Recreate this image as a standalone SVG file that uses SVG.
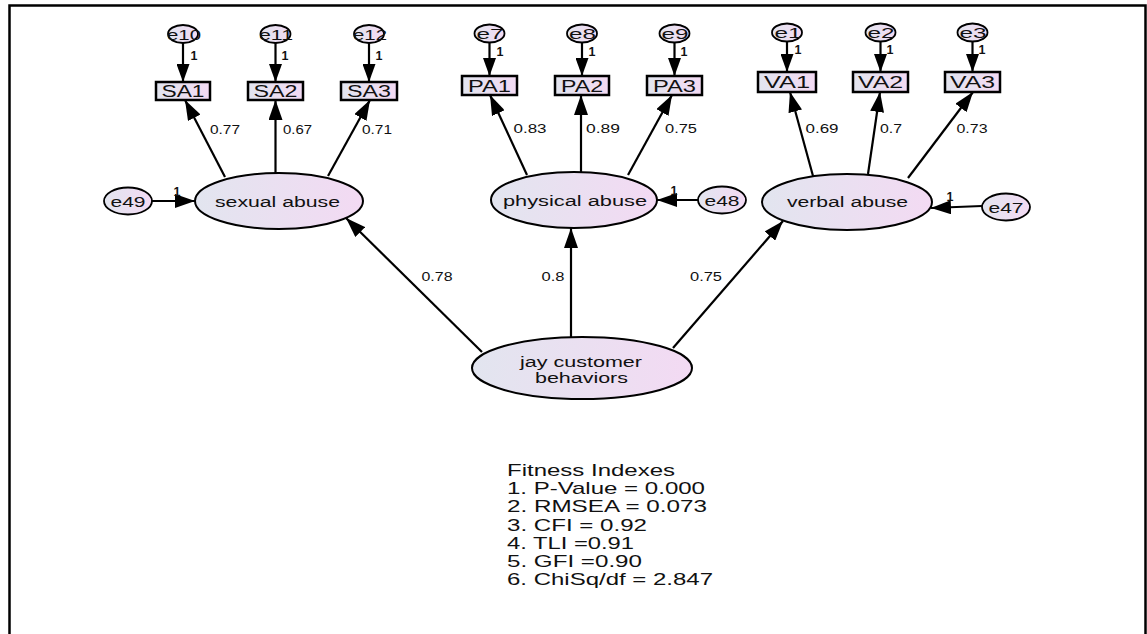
<svg xmlns="http://www.w3.org/2000/svg" width="1147" height="634" viewBox="0 0 1147 634">
  <defs>
    <linearGradient id="fillGrad" x1="0" y1="0" x2="1" y2="0">
      <stop offset="0" stop-color="#e2e5ef"/>
      <stop offset="1" stop-color="#f3daf3"/>
    </linearGradient>
    <marker id="arrow" viewBox="0 0 20 14" refX="20" refY="7" markerWidth="20" markerHeight="14" markerUnits="userSpaceOnUse" orient="auto">
      <path d="M0,0 L20,7 L0,14 z" fill="#000"/>
    </marker>
    <marker id="arrowSmall" viewBox="0 0 18 13" refX="18" refY="6.5" markerWidth="18" markerHeight="13" markerUnits="userSpaceOnUse" orient="auto">
      <path d="M0,0 L18,6.5 L0,13 z" fill="#000"/>
    </marker>
  </defs>
  <style>
    text { font-family: "Liberation Sans", Arial, sans-serif; fill: #111; }
    .latent { fill: url(#fillGrad); stroke: #000; stroke-width: 2; }
    .err { fill: url(#fillGrad); stroke: #000; stroke-width: 1.8; }
    .obs { fill: url(#fillGrad); stroke: #000; stroke-width: 2.5; }
    .lbl { font-size: 15.5px; text-anchor: middle; }
    .box { font-size: 16px; text-anchor: middle; }
    .elbl { font-size: 15px; text-anchor: middle; }
    .coef { font-size: 12.5px; text-anchor: middle; }
    .one { font-size: 12.5px; font-weight: bold; text-anchor: middle; }
    .fit { font-size: 17px; }
    .edge { stroke: #000; stroke-width: 2.2; fill: none; marker-end: url(#arrow); }
    .edge2 { stroke: #000; stroke-width: 2.2; fill: none; marker-end: url(#arrowSmall); }
  </style>

  <!-- frame -->
  <rect x="9.5" y="5.5" width="1136" height="640" fill="#fff" stroke="#000" stroke-width="2.5"/>

  <!-- connectors -->
  <g id="connectors">
    <!-- error terms to indicators -->
    <line class="edge2" x1="183" y1="42" x2="183" y2="82"/>
    <line class="edge2" x1="275.5" y1="42" x2="275.5" y2="82"/>
    <line class="edge2" x1="369" y1="42" x2="369" y2="82"/>
    <line class="edge2" x1="489.5" y1="42" x2="489.5" y2="76"/>
    <line class="edge2" x1="582" y1="42" x2="582" y2="76"/>
    <line class="edge2" x1="674.5" y1="42" x2="674.5" y2="76"/>
    <line class="edge2" x1="787" y1="41" x2="787" y2="72"/>
    <line class="edge2" x1="880.5" y1="41" x2="880.5" y2="72"/>
    <line class="edge2" x1="972.5" y1="41" x2="972.5" y2="72"/>
    <!-- loadings -->
    <line class="edge" x1="225" y1="177" x2="185" y2="100"/>
    <line class="edge" x1="275.5" y1="173" x2="275.5" y2="100"/>
    <line class="edge" x1="328" y1="176" x2="370" y2="100"/>
    <line class="edge" x1="527" y1="175" x2="490" y2="95"/>
    <line class="edge" x1="581" y1="172" x2="581" y2="95"/>
    <line class="edge" x1="628" y1="175" x2="672" y2="95"/>
    <line class="edge" x1="813" y1="176" x2="790" y2="92"/>
    <line class="edge" x1="868" y1="174" x2="880" y2="92"/>
    <line class="edge" x1="908" y1="178" x2="973" y2="92"/>
    <!-- disturbances -->
    <line class="edge" x1="152" y1="201" x2="195" y2="201"/>
    <line class="edge" x1="698" y1="200" x2="657" y2="200"/>
    <line class="edge" x1="982" y1="206" x2="931" y2="208"/>
    <!-- second-order paths -->
    <line class="edge" x1="482" y1="352" x2="346" y2="218"/>
    <line class="edge" x1="571" y1="337" x2="571" y2="228"/>
    <line class="edge" x1="673" y1="348" x2="783" y2="221"/>

    <!-- path coefficients -->
    <text class="coef" x="225" y="134" textLength="30" lengthAdjust="spacingAndGlyphs">0.77</text>
    <text class="coef" x="297.5" y="134" textLength="29" lengthAdjust="spacingAndGlyphs">0.67</text>
    <text class="coef" x="377" y="134" textLength="30" lengthAdjust="spacingAndGlyphs">0.71</text>
    <text class="coef" x="530" y="133" textLength="33" lengthAdjust="spacingAndGlyphs">0.83</text>
    <text class="coef" x="603" y="133" textLength="34" lengthAdjust="spacingAndGlyphs">0.89</text>
    <text class="coef" x="681" y="133" textLength="32" lengthAdjust="spacingAndGlyphs">0.75</text>
    <text class="coef" x="822" y="133" textLength="33" lengthAdjust="spacingAndGlyphs">0.69</text>
    <text class="coef" x="891" y="133" textLength="22" lengthAdjust="spacingAndGlyphs">0.7</text>
    <text class="coef" x="972" y="133" textLength="31" lengthAdjust="spacingAndGlyphs">0.73</text>
    <text class="coef" x="437" y="281" textLength="31" lengthAdjust="spacingAndGlyphs">0.78</text>
    <text class="coef" x="553" y="281" textLength="23" lengthAdjust="spacingAndGlyphs">0.8</text>
    <text class="coef" x="706" y="281" textLength="32" lengthAdjust="spacingAndGlyphs">0.75</text>

    <!-- fixed weights -->
    <text class="one" x="194" y="60">1</text>
    <text class="one" x="285" y="60">1</text>
    <text class="one" x="379" y="60">1</text>
    <text class="one" x="500" y="56">1</text>
    <text class="one" x="592" y="56">1</text>
    <text class="one" x="684" y="56">1</text>
    <text class="one" x="798" y="54">1</text>
    <text class="one" x="890" y="54">1</text>
    <text class="one" x="982" y="54">1</text>
    <text class="one" x="177" y="196">1</text>
    <text class="one" x="674" y="195">1</text>
    <text class="one" x="950" y="201">1</text>
  </g>

  <!-- sexual abuse block -->
  <g id="e10"><ellipse class="err" cx="183" cy="34" rx="15" ry="9"/><text class="elbl" x="184" y="39.5" textLength="34" lengthAdjust="spacingAndGlyphs">e10</text></g>
  <g id="e11"><ellipse class="err" cx="275.5" cy="34" rx="15" ry="9"/><text class="elbl" x="276" y="39.5" textLength="34" lengthAdjust="spacingAndGlyphs">e11</text></g>
  <g id="e12"><ellipse class="err" cx="369" cy="34" rx="15" ry="9"/><text class="elbl" x="370" y="39.5" textLength="34" lengthAdjust="spacingAndGlyphs">e12</text></g>
  <g id="SA1"><rect class="obs" x="156" y="82" width="54" height="18"/><text class="box" x="183" y="97" textLength="43" lengthAdjust="spacingAndGlyphs">SA1</text></g>
  <g id="SA2"><rect class="obs" x="248" y="82" width="55" height="18"/><text class="box" x="275.5" y="97" textLength="44" lengthAdjust="spacingAndGlyphs">SA2</text></g>
  <g id="SA3"><rect class="obs" x="341" y="82" width="56" height="18"/><text class="box" x="369" y="97" textLength="44" lengthAdjust="spacingAndGlyphs">SA3</text></g>
  <g id="sexual-abuse"><ellipse class="latent" cx="279" cy="201" rx="84" ry="28"/><text class="lbl" x="277.5" y="207" textLength="125" lengthAdjust="spacingAndGlyphs">sexual abuse</text></g>
  <g id="e49"><ellipse class="err" cx="128" cy="201" rx="24" ry="13.5"/><text class="elbl" x="128" y="207" textLength="35" lengthAdjust="spacingAndGlyphs">e49</text></g>

  <!-- physical abuse block -->
  <g id="e7"><ellipse class="err" cx="489.5" cy="33.5" rx="15" ry="9"/><text class="elbl" x="490" y="39" textLength="27" lengthAdjust="spacingAndGlyphs">e7</text></g>
  <g id="e8"><ellipse class="err" cx="582" cy="33.5" rx="15" ry="9"/><text class="elbl" x="582.5" y="39" textLength="27" lengthAdjust="spacingAndGlyphs">e8</text></g>
  <g id="e9"><ellipse class="err" cx="674.5" cy="33.5" rx="15" ry="9"/><text class="elbl" x="675" y="39" textLength="27" lengthAdjust="spacingAndGlyphs">e9</text></g>
  <g id="PA1"><rect class="obs" x="462" y="76" width="55" height="19"/><text class="box" x="489.5" y="92" textLength="43" lengthAdjust="spacingAndGlyphs">PA1</text></g>
  <g id="PA2"><rect class="obs" x="555" y="76" width="54" height="19"/><text class="box" x="582" y="92" textLength="42" lengthAdjust="spacingAndGlyphs">PA2</text></g>
  <g id="PA3"><rect class="obs" x="647" y="76" width="55" height="19"/><text class="box" x="674.5" y="92" textLength="43" lengthAdjust="spacingAndGlyphs">PA3</text></g>
  <g id="physical-abuse"><ellipse class="latent" cx="574" cy="200" rx="83" ry="28"/><text class="lbl" x="575" y="206" textLength="144" lengthAdjust="spacingAndGlyphs">physical abuse</text></g>
  <g id="e48"><ellipse class="err" cx="722" cy="200" rx="24" ry="13.5"/><text class="elbl" x="722" y="205.5" textLength="35" lengthAdjust="spacingAndGlyphs">e48</text></g>

  <!-- verbal abuse block -->
  <g id="e1"><ellipse class="err" cx="787" cy="32.5" rx="15" ry="9"/><text class="elbl" x="788" y="38" textLength="27" lengthAdjust="spacingAndGlyphs">e1</text></g>
  <g id="e2"><ellipse class="err" cx="880.5" cy="32.5" rx="15" ry="9"/><text class="elbl" x="881" y="38" textLength="27" lengthAdjust="spacingAndGlyphs">e2</text></g>
  <g id="e3"><ellipse class="err" cx="972.5" cy="32.5" rx="15" ry="9"/><text class="elbl" x="973" y="38" textLength="27" lengthAdjust="spacingAndGlyphs">e3</text></g>
  <g id="VA1"><rect class="obs" x="758" y="72" width="58" height="20"/><text class="box" x="787" y="88" textLength="46" lengthAdjust="spacingAndGlyphs">VA1</text></g>
  <g id="VA2"><rect class="obs" x="853" y="72" width="55" height="20"/><text class="box" x="880.5" y="88" textLength="45" lengthAdjust="spacingAndGlyphs">VA2</text></g>
  <g id="VA3"><rect class="obs" x="945" y="72" width="55" height="20"/><text class="box" x="972.5" y="88" textLength="45" lengthAdjust="spacingAndGlyphs">VA3</text></g>
  <g id="verbal-abuse"><ellipse class="latent" cx="847" cy="202" rx="85" ry="28"/><text class="lbl" x="847.5" y="207" textLength="121" lengthAdjust="spacingAndGlyphs">verbal abuse</text></g>
  <g id="e47"><ellipse class="err" cx="1006" cy="207" rx="24" ry="13.5"/><text class="elbl" x="1006" y="213" textLength="35" lengthAdjust="spacingAndGlyphs">e47</text></g>

  <!-- second-order factor -->
  <g id="jay-customer-behaviors">
    <ellipse class="latent" cx="582" cy="368" rx="110" ry="31"/>
    <text class="lbl" x="581" y="367" textLength="122" lengthAdjust="spacingAndGlyphs">jay customer</text>
    <text class="lbl" x="581.5" y="383" textLength="93" lengthAdjust="spacingAndGlyphs">behaviors</text>
  </g>

  <!-- fit statistics -->
  <g id="fitness-indexes">
    <text class="fit" x="507" y="476" textLength="168" lengthAdjust="spacingAndGlyphs">Fitness Indexes</text>
    <text class="fit" x="507" y="494" textLength="198" lengthAdjust="spacingAndGlyphs">1. P-Value = 0.000</text>
    <text class="fit" x="507" y="512" textLength="200" lengthAdjust="spacingAndGlyphs">2. RMSEA = 0.073</text>
    <text class="fit" x="507" y="531" textLength="140" lengthAdjust="spacingAndGlyphs">3. CFI = 0.92</text>
    <text class="fit" x="507" y="549" textLength="127" lengthAdjust="spacingAndGlyphs">4. TLI =0.91</text>
    <text class="fit" x="507" y="567" textLength="135" lengthAdjust="spacingAndGlyphs">5. GFI =0.90</text>
    <text class="fit" x="507" y="585" textLength="206" lengthAdjust="spacingAndGlyphs">6. ChiSq/df = 2.847</text>
  </g>
</svg>
